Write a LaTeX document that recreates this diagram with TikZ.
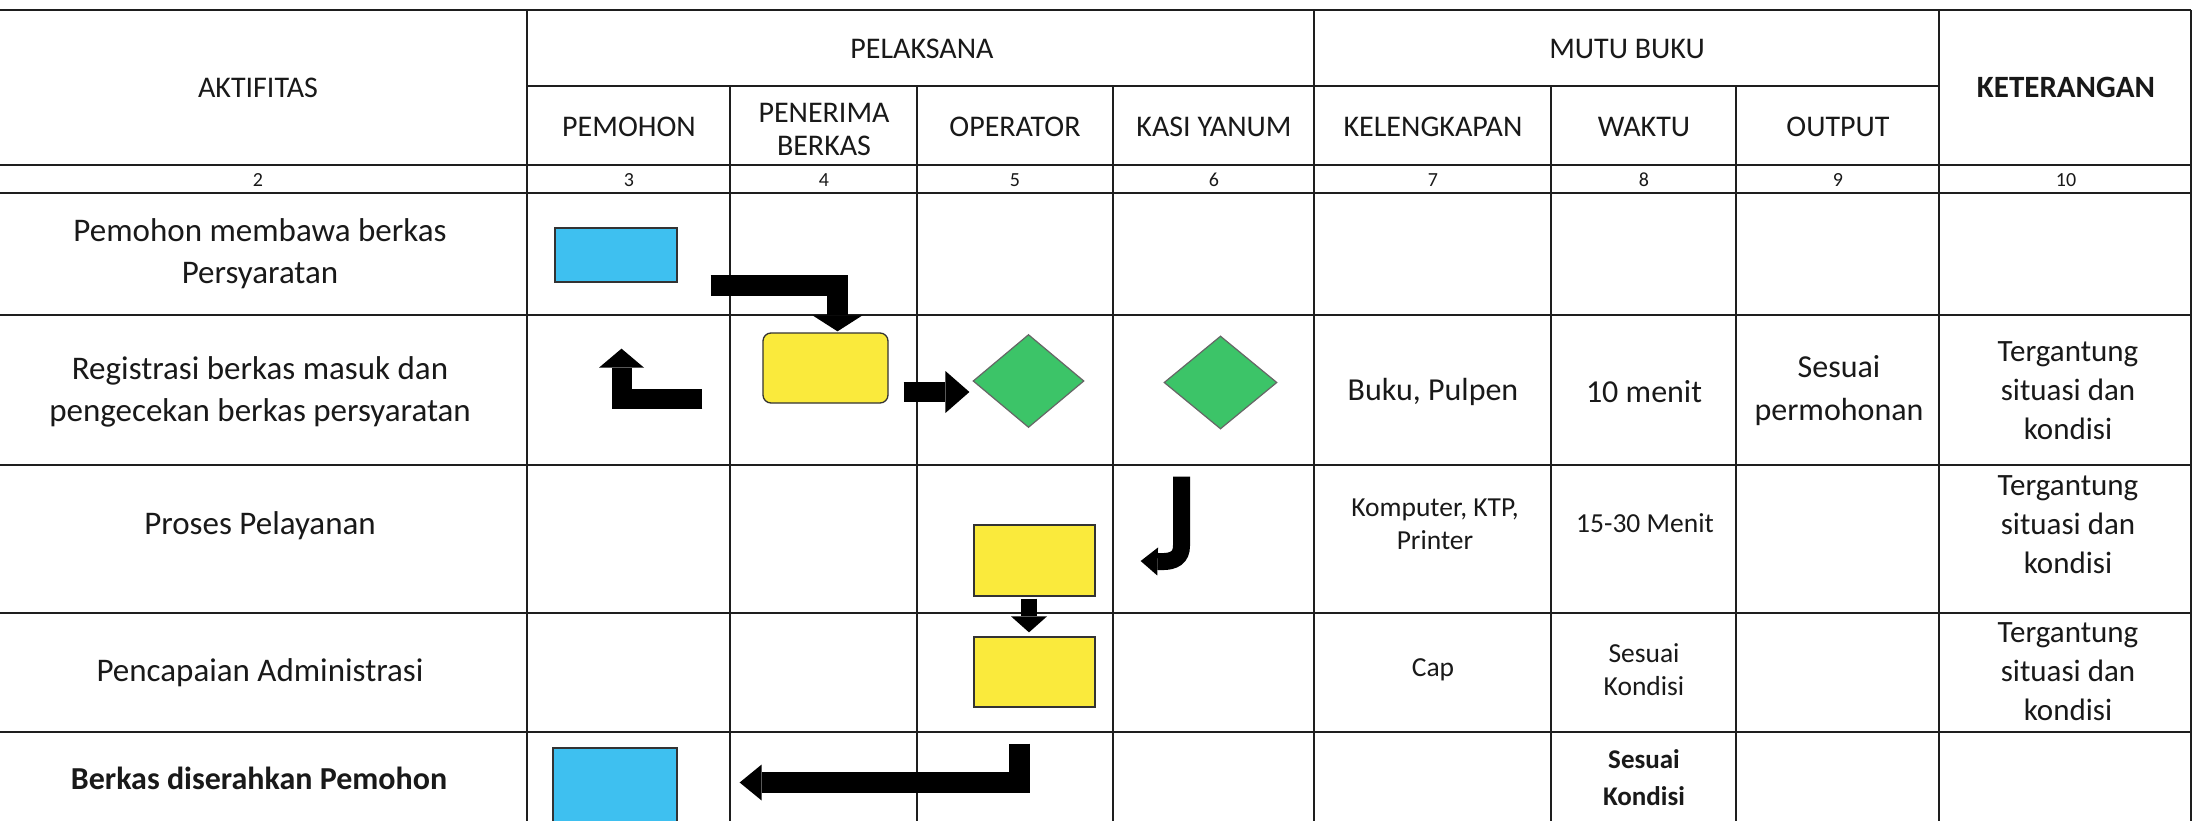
\documentclass[tikz,border=0pt]{standalone}
\usepackage{fontspec}
\setmainfont{Carlito}
\usetikzlibrary{arrows.meta,shapes.geometric,calc}
\definecolor{skyb}{RGB}{62,192,240}
\definecolor{yelb}{RGB}{250,234,60}
\definecolor{grnb}{RGB}{60,196,104}
\definecolor{gridc}{RGB}{30,30,30}
\definecolor{txtc}{RGB}{25,25,25}
\begin{document}
\begin{tikzpicture}[x=1pt,y=-1pt,
  every node/.style={text=txtc},
  hline/.style={line width=2.6pt, gridc},
  vline/.style={line width=2pt, gridc},
  hdr/.style={font=\fontsize{30}{33}\selectfont, align=center, inner sep=0pt},
  hdrb/.style={font=\bfseries\fontsize{31}{36}\selectfont, align=center, inner sep=0pt},
  num/.style={font=\fontsize{20}{22}\selectfont, inner sep=0pt},
  body/.style={font=\fontsize{33}{42}\selectfont, align=center, inner sep=0pt},
  bodyb/.style={font=\bfseries\fontsize{32}{40}\selectfont, align=center, inner sep=0pt},
  mid/.style={font=\fontsize{32}{43}\selectfont, align=center, inner sep=0pt},
  ket/.style={font=\fontsize{31}{39}\selectfont, align=center, inner sep=0pt},
  small/.style={font=\fontsize{27.5}{33}\selectfont, align=center, inner sep=0pt},
  smallb/.style={font=\bfseries\fontsize{27}{37}\selectfont, align=center, inner sep=0pt},
  bluebox/.style={draw=black!80, line width=1.3pt, fill=skyb, inner sep=0pt},
  yelbox/.style={draw=black!80, line width=1.3pt, fill=yelb, inner sep=0pt},
  grndia/.style={diamond, draw=black!60, line width=1.2pt, fill=grnb, inner sep=0pt},
  blk/.style={draw=black, line join=miter, line cap=butt},
]
\useasboundingbox (0,0) rectangle (2195,821);
\clip (0,0) rectangle (2195,821);
\fill[white] (0,0) rectangle (2195,821);

% ---- table grid ----
\foreach \yy in {10,165,193,315,465,613,732} \draw[hline] (0,\yy) -- (2191,\yy);
\draw[hline] (527,86) -- (1939,86);
\foreach \xx in {527,1314,1939,2191} \draw[vline] (\xx,10) -- (\xx,821);
\foreach \xx in {730,917,1113,1551,1736} \draw[vline] (\xx,86) -- (\xx,821);

% ---- headers ----
\node[hdr] (hA) at (258,88) {AKTIFITAS};
\node[hdr] (hP) at (922,49) {PELAKSANA};
\node[hdr] (hM) at (1627,49) {MUTU BUKU};
\node[hdrb] (hK) at (2066,87) {KETERANGAN};
\node[hdr] (h3) at (629,127) {PEMOHON};
\node[hdr] (h4) at (824,129) {PENERIMA\\BERKAS};
\node[hdr] (h5) at (1015,127) {OPERATOR};
\node[hdr] (h6) at (1214,127) {KASI YANUM};
\node[hdr] (h7) at (1433,127) {KELENGKAPAN};
\node[hdr] (h8) at (1644,127) {WAKTU};
\node[hdr] (h9) at (1838,127) {OUTPUT};

\node[num] (n2) at (258,180) {2};
\node[num] (n3) at (629,180) {3};
\node[num] (n4) at (824,180) {4};
\node[num] (n5) at (1015,180) {5};
\node[num] (n6) at (1214,180) {6};
\node[num] (n7) at (1433,180) {7};
\node[num] (n8) at (1644,180) {8};
\node[num] (n9) at (1838,180) {9};
\node[num] (n10) at (2066,180) {10};

% ---- activity column ----
\node[body] (a1) at (260,254) {Pemohon membawa berkas\\Persyaratan};
\node[body] (a2) at (260,392) {Registrasi berkas masuk dan\\pengecekan berkas persyaratan};
\node[body] (a3) at (260,526) {Proses Pelayanan};
\node[body] (a4) at (260,673) {Pencapaian Administrasi};
\node[bodyb] (a5) at (259,778) {Berkas diserahkan Pemohon};

% ---- quality columns ----
\node[mid] (k2) at (1433,392) {Buku, Pulpen};
\node[mid] (w2) at (1644,392) {10 menit};
\node[mid] (o2) at (1839,391) {Sesuai\\permohonan};
\node[ket] (r2) at (2068,391) {Tergantung\\situasi dan\\kondisi};

\node[small] (k3) at (1435,524) {Komputer, KTP,\\Printer};
\node[small] (w3) at (1645,523) {15-30 Menit};
\node[ket] (r3) at (2068,525) {Tergantung\\situasi dan\\kondisi};

\node[small] (k4) at (1433,670) {Cap};
\node[small] (w4) at (1644,670) {Sesuai\\Kondisi};
\node[ket] (r4) at (2068,672) {Tergantung\\situasi dan\\kondisi};

\node[smallb] (w5) at (1644,778) {Sesuai\\Kondisi};

% ---- flow shapes ----
\node[bluebox, minimum width=122pt, minimum height=54pt] (b1) at (616,255) {};
\node[yelbox, rounded corners=8pt, minimum width=125pt, minimum height=70pt] (y1) at (825.5,368) {};
\node[grndia, minimum width=111pt, minimum height=93pt] (d1) at (1028.5,381) {};
\node[grndia, minimum width=113pt, minimum height=93pt] (d2) at (1220.5,382.5) {};
\node[yelbox, minimum width=121pt, minimum height=71pt] (y2) at (1034.5,560.5) {};
\node[yelbox, minimum width=121pt, minimum height=70pt] (y3) at (1034.5,672) {};
\node[bluebox, minimum width=124pt, minimum height=92pt] (b2) at (615,794) {};

% ---- block arrows ----
\draw[blk, line width=21pt, -{Triangle[length=16pt,width=50pt,line width=0pt]}]
  ([xshift=33pt,yshift=-2.5pt]b1.south east) -| ([xshift=12pt,yshift=1pt]y1.north);
\draw[blk, line width=20pt, -{Triangle[length=24pt,width=42pt,line width=0pt]}]
  ([xshift=15pt,yshift=-24pt]y1.east) -- ([xshift=-3pt,yshift=-11pt]d1.west);
\draw[blk, line width=20pt, -{Triangle[length=19pt,width=45pt,line width=0pt]}]
  ([xshift=-60pt,yshift=-30.5pt]y1.west) -| ([xshift=5.5pt,yshift=-66pt]b1.south);
\draw[blk, line width=17pt, -{Triangle[length=17pt,width=28pt,line width=0pt]}]
  ([xshift=-39pt,yshift=-47pt]d2.south) -- ++(0,69) .. controls +(0,12) and +(12,0) .. ++(-19.5,16)
  -- ([xshift=45pt,yshift=-0.5pt]y2.east);
\draw[blk, line width=16pt, -{Triangle[length=16pt,width=36pt,line width=0pt]}]
  ([xshift=-5.5pt,yshift=-2pt]y2.south) -- ([xshift=-5.5pt,yshift=4pt]y3.north);
\draw[blk, line width=21pt, -{Triangle[length=22pt,width=36pt,line width=0pt]}]
  ([xshift=-15pt,yshift=-36pt]y3.south) |- ([xshift=62pt,yshift=11.5pt]b2.east);
\end{tikzpicture}
\end{document}
